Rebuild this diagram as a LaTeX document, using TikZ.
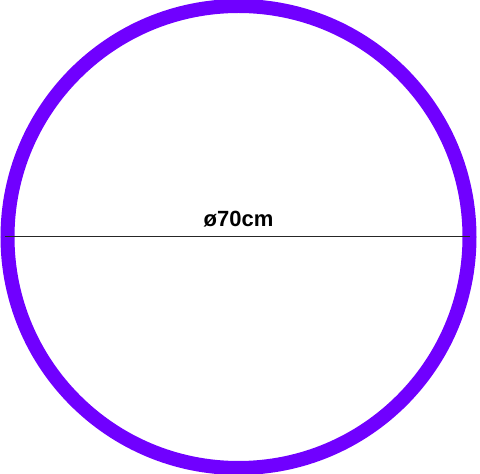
\documentclass[tikz,border=0pt]{standalone}
\usepackage{fontspec}
\setmainfont{Liberation Sans}
\definecolor{ringviolet}{RGB}{112,0,255}
\tikzset{
  ring/.style={circle, draw=ringviolet, line width=14pt, minimum size=462pt, inner sep=0pt},
  dimline/.style={draw=black!85, line width=1pt},
  dimlabel/.style={font=\bfseries\fontsize{22}{26}\selectfont, inner sep=0pt, anchor=base}
}
\begin{document}
\begin{tikzpicture}[x=1pt,y=1pt]
\useasboundingbox (0,0) rectangle (480,474);
\node[ring] (hoop) at (238.5,237) {};
\coordinate (left) at (5,237);
\coordinate (right) at (470,237);
\draw[dimline] (left) -- (right);
\node[dimlabel] (label) at (238.5,247) {ø70cm};
\end{tikzpicture}
\end{document}
